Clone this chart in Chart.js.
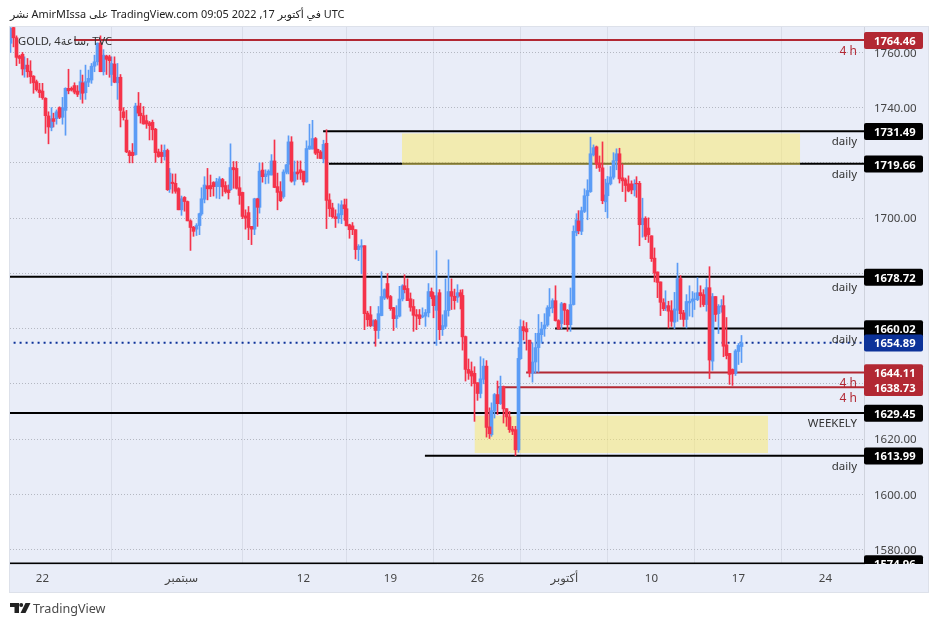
<!DOCTYPE html>
<html><head><meta charset="utf-8">
<script src="https://cdn.jsdelivr.net/npm/chart.js@4"></script>
<style>
html,body{margin:0;padding:0;background:#fff;width:938px;height:627px;overflow:hidden}
canvas{position:absolute;left:0;top:0}
.t{position:absolute;font-family:"Noto Sans","DejaVu Sans",sans-serif;white-space:nowrap;direction:ltr}
</style></head><body>
<canvas id="c" width="938" height="627"></canvas>
<div class="t" style="left:10px;top:6px;font-size:10.9px;line-height:16px;color:#222">نشر AmirMIssa على TradingView.com 09:05 2022 ,17 في أكتوبر UTC</div>
<div class="t" style="left:18px;top:33px;font-size:11.2px;line-height:16px;color:#333">GOLD, 4ساعة, TVC</div>
<svg style="position:absolute;left:10px;top:603px" width="21" height="12" viewBox="0 0 21 12"><path fill="#222" d="M0 0H9V10H4.5V4H0Z"/><circle fill="#222" cx="11.2" cy="2" r="2"/><path fill="#222" d="M15.5 0H20.5L15.5 10H10.5Z"/></svg>
<div class="t" style="left:33px;top:600px;font-size:12.6px;line-height:18px;color:#4a4a4a">TradingView</div>
<script>
// Each candle: open, high, low, close
const candlesAug22 = [
[1763.3,1769,1760,1768.7],[1769,1769.2,1762,1765.3],[1765.3,1766,1755.2,1758.2],[1758.7,1759,1756,1757.8],[1759.3,1760,1751.8,1754],
[1754,1758.4,1751,1755.4],[1755.4,1757.8,1751,1753],[1753.2,1757,1748.8,1751.2],[1751.4,1751.6,1745.2,1749],[1749.4,1750,1746,1746.5],
[1746.4,1748.8,1743.7,1745.4],[1746,1748.8,1743,1743.6],[1743.4,1743.6,1730.7,1737.1],[1737,1738.5,1726.9,1733],[1732.8,1740,1731.6,1736],
[1736,1738,1733,1735],[1736,1739.2,1734,1738.5],[1740,1740.3,1736,1736.5],[1736.5,1743.7,1734,1740],[1739,1747.2,1730,1747],
[1747,1753.9,1745,1746.1],[1747,1747.5,1746,1746.4],[1748,1749,1745,1745.6],[1746,1748,1744,1744.8],[1745.6,1753.6,1743,1749.4],
[1749,1751.8,1741.6,1745.2],[1745.4,1755.4,1743,1749.4],[1749.2,1753.6,1747.6,1750.6],[1750,1756,1748.8,1755],[1755,1759,1753,1756.6]];
const candlesAug29 = [
[1756.6,1763.5,1755.4,1763.3],[1763.4,1766,1753,1753],[1753,1761,1751.8,1759],[1758.7,1759,1752,1757.5],[1758.4,1759,1751,1757],
[1752,1758.4,1748,1756],[1755.8,1758.4,1749,1749.2],[1749,1756,1743,1751],[1751,1752,1733,1739],[1738.5,1740,1735.5,1736.4],
[1735.5,1739,1723.7,1724],[1724,1724.5,1720,1722.6],[1723.8,1727,1720,1722.6],[1723,1741.6,1722.8,1740.6],[1740.6,1745.5,1737,1738],
[1738,1741.6,1734.4,1737.1],[1737.1,1740.4,1734,1734.1],[1735.3,1737.3,1732.5,1734.1],[1734.5,1735,1728.3,1733.5],[1734.7,1735.5,1728.3,1732],
[1732.2,1732.5,1720.2,1723.7],[1724,1725,1722,1722.3],[1723.8,1726.5,1720,1722.3],[1722.3,1726.5,1721,1724.5],[1724.5,1725,1710,1710.3],
[1710.5,1718,1709.3,1716.3],[1713,1716,1709,1712.5],[1712.6,1716,1709,1709.7],[1710.7,1711,1703,1703],[1703,1708,1701,1707]];
const candlesSep5 = [
[1707.5,1707.8,1702.5,1706],[1706,1706.2,1699,1699],[1699,1699.4,1688.3,1696.6],[1696.7,1697,1693.4,1695.2],[1696,1698,1693.7,1697.3],
[1697.3,1701.8,1694,1701.6],[1701.5,1711,1701,1707],[1706.8,1715,1705.5,1712],[1711.7,1718,1706.6,1710.6],[1711.8,1715.6,1707.8,1710.6],
[1712.9,1713.2,1708,1711.4],[1711.4,1714.4,1707.2,1713.2],[1711.4,1715,1707,1714.2],[1714,1714.4,1708,1711.3],[1711.8,1713.2,1709,1709.6],
[1710.2,1712,1706.9,1709.2],[1710.3,1726.9,1710,1718.3],[1718.3,1720.5,1710.8,1717.5],[1718,1720.5,1710.5,1710.8],[1711,1715,1705,1708.2],
[1709.3,1709.4,1699.8,1700.6],[1700.8,1703,1696,1700],[1702,1704.2,1692.2,1696.6],[1697,1697,1690.4,1696],[1696,1707.2,1694,1707],
[1707,1707.2,1697,1703.9],[1703.9,1720,1701.8,1717],[1717.4,1720,1713,1715],[1715,1717.5,1712.4,1716],[1715.6,1717.5,1712.6,1717]];
const candlesSep12 = [
[1715.6,1723,1715.6,1720.7],[1720.7,1728.3,1711,1711.1],[1711.4,1716.3,1703,1709.3],[1709.6,1713.2,1706,1706.3],[1707.8,1717.5,1707.2,1716.7],
[1716.6,1719.5,1716,1719.3],[1719.5,1729.8,1716,1727.6],[1727.6,1729.5,1713,1713.4],[1713.4,1720.7,1712,1716.7],[1716.7,1720.7,1714,1716],
[1717.5,1720.7,1714,1716.5],[1717,1717,1712,1713.1],[1713.1,1728,1713,1725.2],[1725,1734,1724.9,1726.1],[1725,1735.4,1725,1728.8],
[1728.8,1729.2,1723,1723.5],[1724.9,1725,1721.6,1723.7],[1724,1724.5,1721.5,1721.6],[1721.4,1728.2,1720,1726.7],[1727.1,1732,1696.2,1706.4],
[1706.6,1708.8,1700.6,1703.4],[1703.7,1705.4,1700,1700.5],[1700.5,1703,1696.6,1699.8],[1699.8,1705.2,1698.2,1701.6],[1701.2,1706.3,1698,1704.8],
[1704.8,1706.9,1699.2,1703.4],[1703.4,1706.9,1697.2,1697.2],[1697.6,1697.8,1692.7,1695.8],[1697.2,1698.4,1694,1695.8],[1695.8,1695.8,1685.2,1688.6]];
const candlesSep19 = [
[1688.6,1690.4,1684.6,1689.8],[1689.5,1692.2,1679.8,1690],[1690,1690,1659.6,1665.4],[1665.6,1666.3,1660.8,1663.2],[1665,1668,1660.6,1661],
[1661,1663.2,1660.8,1662.9],[1662.9,1663.3,1653.6,1659.3],[1659.3,1668,1656.4,1665.4],[1664.7,1680.6,1664.6,1671.6],[1671,1674.4,1670.5,1674.1],
[1676.3,1679.9,1670.7,1671.3],[1671.6,1672,1666.6,1667.2],[1667.6,1667.7,1659.3,1663.6],[1663.6,1668.3,1660.4,1664.7],[1664.5,1675.3,1664.2,1670.7],
[1670.7,1675.9,1670,1675.5],[1675.5,1679.5,1672.9,1674.1],[1674.5,1678,1670.1,1670.1],[1670.8,1672.9,1666.3,1667.7],[1668,1670.5,1659,1664.8],
[1665,1666.9,1659.6,1664.5],[1665,1666.9,1661.4,1663.6],[1664.2,1667.5,1663.9,1664.7],[1664.5,1666.9,1660.8,1665.8],[1665.7,1676.3,1664.2,1673.4],
[1673.4,1674.7,1670.8,1671.6],[1671.9,1673.1,1663.9,1668.3],[1666.6,1688.2,1653.9,1671.9],[1673,1674.1,1656,1659.6],[1659.6,1665,1657.5,1661.1]];
const candlesSep26 = [
[1660.8,1678,1660,1666.5],[1666.5,1684.9,1664.5,1673.4],[1673.4,1678,1666.9,1671.7],[1671.7,1674.3,1667,1670.1],[1671.3,1675.9,1669.5,1673],
[1673,1674,1667.1,1671.7],[1672,1674.1,1652.2,1657],[1657.1,1657.3,1641,1645.2],[1645.2,1649,1641.6,1643.8],[1644.6,1647.9,1639.2,1642.8],
[1643.8,1646.2,1626.4,1640.1],[1640.4,1640.4,1634,1636.5],[1636.5,1649.8,1634.9,1641.8],[1641.6,1649.1,1640,1646.4],[1646.4,1648.4,1620.7,1624.2],
[1624.4,1631.3,1620.2,1621.9],[1621.6,1633.1,1621,1630.3],[1630.1,1636.5,1627.6,1636.1],[1636.1,1641,1628.9,1632.8],[1632.8,1642.8,1632.5,1638.9],
[1638.9,1639.2,1625.8,1630.9],[1631,1631,1624.6,1628],[1628,1630,1622.4,1623.4],[1623.6,1624.6,1621.6,1622.8],[1623.4,1624.6,1614,1616.1],
[1616.1,1653.1,1615.2,1649.2],[1649.1,1663.2,1648.8,1660.7],[1660.7,1662.8,1655.9,1659.2],[1660,1662.2,1652.2,1658.8],[1655.8,1655.8,1642.5,1644]];
const candlesOct3 = [
[1643.8,1654.9,1640.6,1647.9],[1647.9,1658.3,1643.8,1653.1],[1653.1,1665.1,1644.2,1658.3],[1657.8,1662.3,1654.8,1659.9],[1659.9,1665.4,1657.2,1661.3],
[1661.3,1668.3,1660.8,1667.5],[1667.2,1674.5,1664.5,1667.7],[1667.5,1670.8,1665.7,1670.1],[1670.1,1675.5,1662.7,1662.9],[1662.9,1663.2,1659.7,1659.9],
[1661.8,1669.5,1659.9,1669],[1669,1669.2,1661.4,1666.6],[1666.6,1666.9,1659,1661.4],[1661.4,1674.7,1659,1668.7],[1668.7,1697.2,1668.5,1695.2],
[1694.8,1701.6,1693.6,1699.4],[1699,1702.7,1694.3,1695.4],[1695.2,1704,1694,1702.7],[1702.4,1710.6,1702,1708.1],[1708.1,1713.9,1699.4,1710],
[1709.6,1729.3,1709.3,1723.3],[1722.9,1726.5,1722.5,1725.5],[1725.8,1726.1,1718,1719.6],[1719.9,1722.5,1716.9,1718.3],[1718.2,1727.6,1705.2,1706.3],
[1705.9,1714.1,1702.3,1708.4],[1708.1,1715.1,1700.1,1712.7],[1712.4,1718.7,1712,1714.9],[1714.8,1723.7,1714.1,1720.8],[1720.8,1725.1,1717.5,1723.3]];
const candlesOct10 = [
[1723.3,1725.3,1712.7,1714.2],[1714.6,1719.6,1709.6,1713.5],[1713.9,1714.5,1706,1711.8],[1712.4,1715.3,1709.5,1709.8],[1712.4,1713.5,1708.8,1710.2],
[1710.2,1713.9,1708,1712.4],[1712.6,1715,1707.5,1712.4],[1712.6,1713.3,1690,1697.6],[1697.6,1707.2,1693.1,1700],[1699.9,1700.5,1692.2,1693.4],
[1696.4,1700.1,1691.2,1694],[1693.6,1693.6,1684.3,1685.3],[1685.5,1689.2,1676.9,1680.1],[1680.5,1680.5,1671.2,1676.7],[1676.9,1676.9,1664.7,1669.5],
[1669.4,1670.8,1666.5,1667.2],[1667.5,1673.7,1666.5,1668.3],[1668.3,1669.9,1660.2,1666.3],[1666.5,1670.1,1660.8,1662.6],[1662.3,1673.1,1660,1667.1],
[1666.6,1683.7,1662.6,1678.1],[1678.1,1679.2,1663.3,1665.4],[1665.7,1666.6,1660.8,1663.3],[1663.3,1672.3,1660.2,1669.8],[1669.3,1675.5,1664.5,1669.9],
[1669.9,1673.4,1664.2,1670.7],[1670.5,1672.9,1666.9,1670.7],[1670.5,1678.4,1670.1,1673],[1673,1675.5,1667.8,1671.9],[1672.3,1674.1,1668,1668.7]];
const candlesOct17 = [
[1668.7,1678,1666.3,1674.8],[1674.8,1682.4,1641.9,1648.6],[1648.2,1672.7,1644.9,1671.6],[1671.6,1671.6,1662.6,1665.1],[1665.4,1668.7,1658.2,1668.1],
[1667.8,1670.5,1665.9,1668.3],[1668.3,1671.9,1649.8,1653.6],[1654.1,1664,1649,1650.2],[1651,1651,1639.8,1643.4],[1645.2,1645.4,1639.4,1643.6],
[1643.7,1652.4,1643,1651.9],[1651.7,1654.6,1647,1653.9],[1653.5,1657.5,1647.7,1654.9]];

const candles = [candlesAug22,candlesAug29,candlesSep5,candlesSep12,candlesSep19,candlesSep26,candlesOct3,candlesOct10,candlesOct17].flat();

const priceTicks = [1580,1600,1620,1640,1660,1680,1700,1720,1740,1760];
const dateTickSlots = [11,59,101,131,161,191,221,251,281];
const dateTickLabels = ['22','سبتمبر','12','19','26','أكتوبر','10','17','24'];

// level lines: price, first candle slot, colour name
const levelPrices = [1764.46,1731.49,1719.66,1678.72,1660.02,1644.11,1638.73,1629.45,1613.99,1574.96];
const levelStarts = [21.9,107.8,109.8,-1,187.8,177.8,167.9,-1,142.9,-1];
const levelKinds  = ['r','k','k','k','k','r','r','k','k','k'];
const levelNotes  = ['4 h','daily','daily','daily','daily','4 h','4 h','WEEKELY','daily',''];
const lastPrice = 1654.89;
const zoneTop = [1730.6,1628.45], zoneBottom = [1719.2,1614.95], zoneStart = [135,160], zoneEnd = [272.3,261.2];

const INK = {r:'#b22833',k:'#000000',b:'#0c3299'};
const RED='#f5334a', BLUE='#5b9cf6';
const XMIN=-0.17, XMAX=294.3;

const idx = candles.map((c,i)=>({c,i}));
const isUp = c => c[3]>=c[0];
const wick = up => idx.filter(o=>isUp(o.c)===up).map(o=>({x:o.i,y:[o.c[2],o.c[1]]}));
const body = up => idx.filter(o=>isUp(o.c)===up).map(o=>({x:o.i,y:[Math.min(o.c[0],o.c[3]),Math.max(o.c[0],o.c[3])]}));

const datasets = [
 {type:'bar',data:wick(true),backgroundColor:BLUE,barThickness:1,grouped:false,order:4},
 {type:'bar',data:wick(false),backgroundColor:RED,barThickness:1,grouped:false,order:3},
 {type:'bar',data:body(true),backgroundColor:BLUE,barThickness:3,grouped:false,order:2},
 {type:'bar',data:body(false),backgroundColor:RED,barThickness:3,grouped:false,order:1}
];
const line = (x0,y,color,extra)=>Object.assign({type:'line',data:[{x:x0,y},{x:XMAX,y}],borderColor:color,borderWidth:2,pointRadius:0,fill:false,order:20,borderCapStyle:'butt'},extra||{});
levelPrices.forEach((p,i)=>datasets.push(line(levelStarts[i],p,INK[levelKinds[i]])));
datasets.push(line(-1,lastPrice,INK.b,{borderDash:[2,4]}));
zoneTop.forEach((t,i)=>datasets.push({type:'line',data:[{x:zoneStart[i],y:t},{x:zoneEnd[i],y:t}],borderWidth:0,pointRadius:0,order:10,
  backgroundColor:'rgba(252,234,103,0.5)',fill:{target:{value:zoneBottom[i]}}}));

const FONT='"Noto Sans","DejaVu Sans",sans-serif';
const panel={id:'panel',beforeDraw(ch){const g=ch.ctx;g.save();g.fillStyle='#e9edf8';g.fillRect(10,27,918,565);
  g.strokeStyle='#dde1ea';g.lineWidth=1;g.strokeRect(9.5,26.5,919,566);g.restore();}};
// keep candles on whole pixels, as the reference does
const crisp={id:'crisp',beforeDatasetsDraw(ch){ch.getSortedVisibleDatasetMetas().forEach(m=>{if(m.type==='bar')m.data.forEach(el=>{el.x=Math.floor(el.x)+0.5;});});}};
const tags={id:'tags',afterDraw(ch){const g=ch.ctx,y=ch.scales.y,L=864,W=59,H=17;g.save();
  g.textAlign='right';g.textBaseline='middle';
  levelPrices.forEach((p,i)=>{if(!levelNotes[i])return;g.fillStyle=levelKinds[i]==='r'?INK.r:'#333';
    g.font=(levelKinds[i]==='r'?'12px ':'11.5px ')+FONT;g.fillText(levelNotes[i],857,y.getPixelForValue(p)+11);});
  g.beginPath();g.rect(L,0,74,564);g.clip();
  const draw=(p,col)=>{const py=y.getPixelForValue(p);g.fillStyle=col;g.beginPath();g.roundRect(L,py-H/2+.3,W,H,2);g.fill();};
  const text=(p)=>{const py=y.getPixelForValue(p);g.fillStyle='#fff';g.font='bold 11.2px '+FONT;g.textAlign='left';g.fillText(p.toFixed(2),L+10,py+1.5);};
  levelPrices.forEach((p,i)=>draw(p,INK[levelKinds[i]]));draw(lastPrice,INK.b);
  levelPrices.forEach(text);text(lastPrice);g.restore();}};

new Chart(document.getElementById('c'),{
 data:{datasets},
 plugins:[panel,crisp,tags],
 options:{responsive:false,animation:false,devicePixelRatio:1,
  layout:{padding:{left:10,top:27,right:10,bottom:35}},
  plugins:{legend:{display:false},tooltip:{enabled:false},title:{display:false}},
  scales:{
   x:{type:'linear',min:XMIN,max:XMAX,offset:false,
      afterBuildTicks(s){s.ticks=dateTickSlots.map(v=>({value:v}));},
      afterFit(s){s.height=28;},
      grid:{color:'#d9dde9',lineWidth:1,drawTicks:false},
      border:{color:'#cfd3dd'},
      ticks:{autoSkip:false,maxRotation:0,padding:8,color:'#444',font:{family:FONT,size:11.5},
        callback(v){const k=dateTickSlots.indexOf(v);return k<0?'':dateTickLabels[k];}}},
   y:{type:'linear',position:'right',min:1574.75,max:1769.2,
      afterBuildTicks(s){s.ticks=priceTicks.map(v=>({value:v}));},
      afterFit(s){s.width=64;},
      grid:{color:'#b4b8c2',lineWidth:1,drawTicks:false},
      border:{color:'#cfd3dd',dash:[1,2]},
      ticks:{padding:10,labelOffset:1,color:'#444',font:{family:FONT,size:11.5},callback(v){return Number(v).toFixed(2);}}}
  }}
});
</script>
</body></html>
